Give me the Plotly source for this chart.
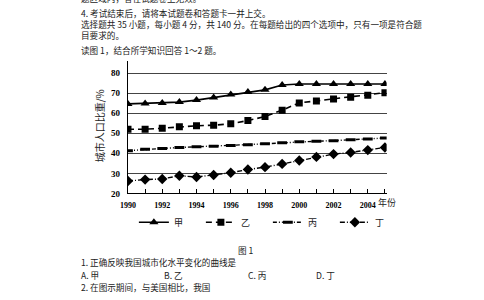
import plotly.graph_objects as go

years = list(range(1990, 2006))
jia = [64.6, 64.8, 65.0, 65.5, 66.5, 67.8, 69.3, 70.5, 71.6, 74.0, 74.5, 74.5, 74.5, 74.5, 74.5, 74.5]
yi = [52.0, 52.0, 52.5, 53.2, 53.7, 54.0, 54.7, 56.3, 58.3, 61.5, 65.1, 66.1, 67.1, 67.9, 68.9, 70.2]
bing = [41.3, 42.0, 42.4, 42.9, 43.2, 43.5, 43.9, 44.2, 44.7, 45.2, 45.7, 46.0, 46.3, 46.8, 47.1, 47.6]
ding = [26.2, 26.9, 27.2, 28.8, 28.2, 29.2, 30.3, 31.9, 33.1, 34.7, 36.4, 38.2, 39.6, 40.4, 41.6, 42.9]
tick_years = [1990, 1992, 1994, 1996, 1998, 2000, 2002, 2004]
y_ticks = [20, 30, 40, 50, 60, 70, 80]

W, H = 484, 300
CJK = "Noto Sans CJK SC"
SERIF = "Liberation Serif"

def px(x):
    return x / W

def py(y):
    return 1 - y / H

fig = go.Figure()
fig.add_trace(go.Scatter(x=years, y=jia, name="甲", mode="lines+markers",
                         line=dict(color="black", width=1.6),
                         marker=dict(symbol="triangle-up", size=8, color="black")))
fig.add_trace(go.Scatter(x=years, y=yi, name="乙", mode="lines+markers",
                         line=dict(color="black", width=1.6, dash="6px,4px"),
                         marker=dict(symbol="square", size=7, color="black")))
fig.add_trace(go.Scatter(x=years, y=bing, name="丙", mode="lines+markers",
                         line=dict(color="black", width=1.4, dash="4px,2px,1px,2px,1px,2px"),
                         marker=dict(symbol="line-ew", size=7, color="black",
                                     line=dict(width=3, color="black"))))
fig.add_trace(go.Scatter(x=years, y=ding, name="丁", mode="lines+markers",
                         line=dict(color="black", width=1.4, dash="5px,2px,1px,2px"),
                         marker=dict(symbol="diamond", size=8, color="black")))

fig.update_layout(
    width=W, height=H,
    margin=dict(l=0, r=0, t=0, b=0),
    paper_bgcolor="white", plot_bgcolor="white",
    showlegend=True,
    legend=dict(orientation="h", x=px(128), y=py(226), xanchor="left", yanchor="middle",
                font=dict(family=CJK, size=9, color="#222"),
                entrywidth=22, entrywidthmode="pixels",
                itemwidth=30, bgcolor="rgba(0,0,0,0)", tracegroupgap=0),
    xaxis=dict(domain=[px(122), px(385)], range=[1990, 2005.1],
               tickmode="array", tickvals=years,
               ticktext=[str(y) if y in tick_years else "" for y in years],
               ticks="inside", ticklen=4, tickcolor="black", tickwidth=1,
               showline=True, linecolor="black", linewidth=1.3,
               showgrid=False, zeroline=False,
               tickfont=dict(family=SERIF, size=8, color="black", weight="bold"),
               ticklabelstandoff=4),
    yaxis=dict(domain=[py(196.7), py(62)], range=[20, 86],
               tickmode="array", tickvals=y_ticks,
               ticks="", showline=True, linecolor="black", linewidth=1.3,
               showgrid=True, gridcolor="#444", gridwidth=1.2,
               zeroline=False,
               tickfont=dict(family=SERIF, size=9, color="black", weight="bold"),
               ticklabelstandoff=5),
)

def txt(x, y, s, size=8.6, anchor="left", family=CJK, **kw):
    fig.add_annotation(x=px(x), y=py(y), xref="paper", yref="paper", text=s,
                       showarrow=False, xanchor=anchor, yanchor="middle", align="left",
                       borderpad=0,
                       font=dict(family=family, size=size, color="#222"), **kw)

txt(73, -2.5, "题区域内，答在试题卷上无效。")
txt(73, 24.7, "4. 考试结束后，请将本试题卷和答题卡一并上交。<br>"
              "选择题共 35 小题，每小题 4 分，共 140 分。在每题给出的四个选项中，只有一项是符合题<br>"
              "目要求的。")
txt(73, 50.7, "读图 1，结合所学知识回答 1～2 题。")

txt(93, 128, "城市人口比重/%", size=10, anchor="center", textangle=-90)
txt(385, 206, "年份", size=9, anchor="center")

txt(242, 254, "图 1", anchor="center")
txt(73, 266.6, "1. 正确反映我国城市化水平变化的曲线是")
txt(73, 279.3, "A. 甲")
txt(158, 279.3, "B. 乙")
txt(243, 279.3, "C. 丙")
txt(312, 279.3, "D. 丁")
txt(73, 292.2, "2. 在图示期间，与美国相比，我国")

fig.write_html("out.html")
